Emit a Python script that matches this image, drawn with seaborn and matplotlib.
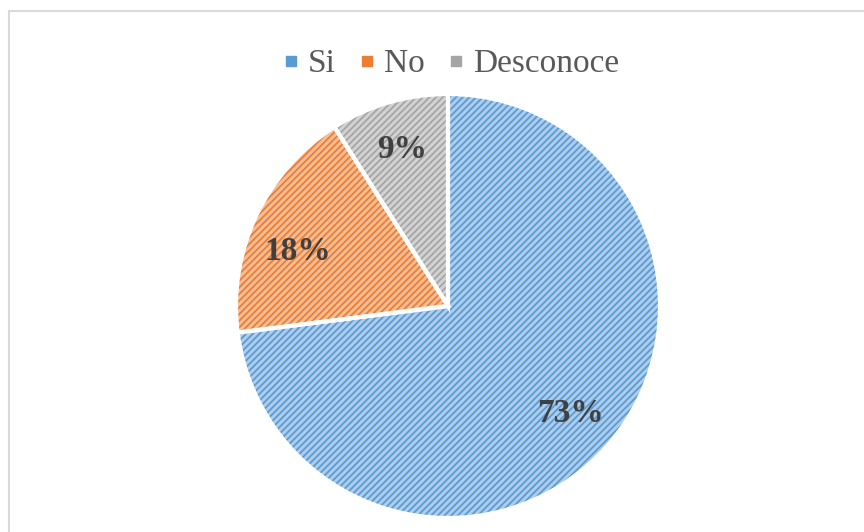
import matplotlib
matplotlib.use("Agg")
import matplotlib.pyplot as plt
from matplotlib.lines import Line2D
from matplotlib.patches import Rectangle
import seaborn as sns

categories = ["Si", "No", "Desconoce"]
values = [73, 18, 9]

sns.set_theme(style="white")
plt.rcParams["font.family"] = ["Liberation Serif", "DejaVu Serif"]
plt.rcParams["hatch.linewidth"] = 1.3

base = sns.color_palette(["#5B9BD5", "#ED7D31", "#A5A5A5"])
light = [sns.blend_palette([c, "white"], 3)[1] for c in base]

fig = plt.figure(figsize=(8.64, 5.32), dpi=100)
W, H = 864, 532

# outer chart frame (runs off the right and bottom edges)
fig.patches.append(Rectangle((9 / W, -0.05), 1.2, (H - 11) / H + 0.05,
                             transform=fig.transFigure, fill=False,
                             edgecolor="#D9D9D9", linewidth=1.5))

cx, cy, r = 448, 306, 212
ax = fig.add_axes([(cx - r) / W, (H - cy - r) / H, 2 * r / W, 2 * r / H])

wedges, texts, autotexts = ax.pie(
    values, startangle=90, counterclock=False, radius=1,
    colors=light, autopct="%.0f%%", pctdistance=0.77,
    wedgeprops=dict(edgecolor=None, linewidth=0),
    textprops=dict(fontsize=24, fontweight="bold", color="#404040"),
)
for w, c in zip(wedges, base):
    w.set_hatch("/////")
    w.set_edgecolor(c)
    w.set_linewidth(0)

# the "No" label sits a little lower inside its slice
x, y = autotexts[1].get_position()
autotexts[1].set_position((x - 0.01, y - 0.07))

# white separators between the slices
ax.pie(values, startangle=90, counterclock=False, radius=1,
       colors=["none"] * 3,
       wedgeprops=dict(edgecolor="white", linewidth=3, fill=False))

ax.set_xlim(-1, 1)
ax.set_ylim(-1, 1)
ax.set_aspect("equal")
ax.axis("off")

handles = [Line2D([0], [0], marker="s", linestyle="none", markersize=6.5,
                  markerfacecolor=c, markeredgecolor=c) for c in base]
fig.legend(handles, categories, loc="center", bbox_to_anchor=(450 / W, 1 - 64 / H),
           ncol=3, frameon=False, fontsize=24, handletextpad=0.2,
           columnspacing=0.65, handlelength=0.6, labelcolor="#595959")

fig.savefig("out.png", dpi=100, facecolor="white")
